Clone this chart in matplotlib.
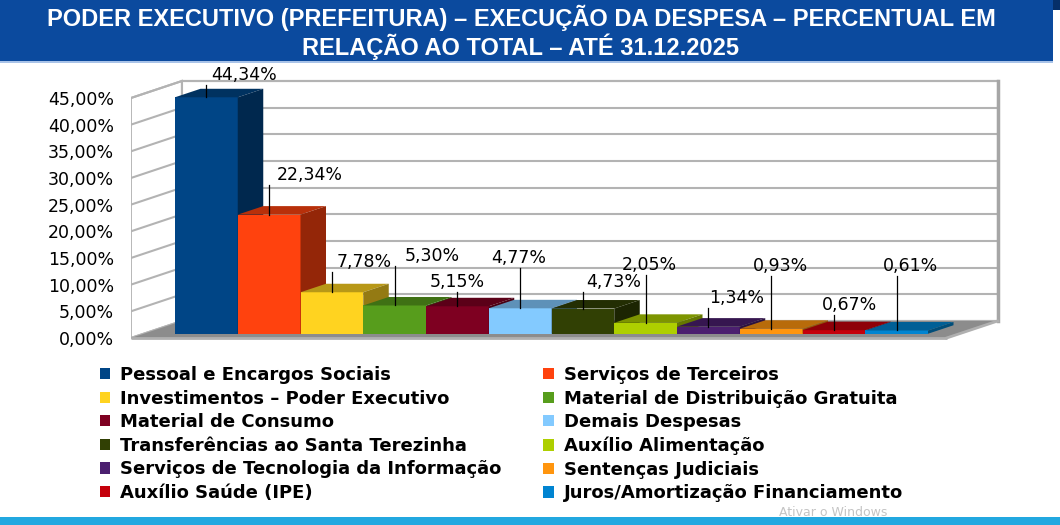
import numpy as np
import matplotlib
matplotlib.use('Agg')
import matplotlib.pyplot as plt
from matplotlib.patches import Polygon, Rectangle, Patch
from matplotlib.colors import to_rgb

# dados
categorias = ['Pessoal e Encargos Sociais', 'Serviços de Terceiros',
              'Investimentos – Poder Executivo', 'Material de Distribuição Gratuita',
              'Material de Consumo', 'Demais Despesas',
              'Transferências ao Santa Terezinha', 'Auxílio Alimentação',
              'Serviços de Tecnologia da Informação', 'Sentenças Judiciais',
              'Auxílio Saúde (IPE)', 'Juros/Amortização Financiamento']
valores = [44.34, 22.34, 7.78, 5.30, 5.15, 4.77, 4.73, 2.05, 1.34, 0.93, 0.67, 0.61]
cores = ['#004586', '#ff420e', '#ffd320', '#579d1c', '#7e0021', '#83caff',
         '#314004', '#aecf00', '#4b1f6f', '#ff950e', '#c5000b', '#0084d1']
yticks = [0, 5, 10, 15, 20, 25, 30, 35, 40, 45]
titulo = ['PODER EXECUTIVO (PREFEITURA) – EXECUÇÃO DA DESPESA – PERCENTUAL EM',
          'RELAÇÃO AO TOTAL – ATÉ 31.12.2025']

# deslocamento dos rotulos (pixels, a partir do topo da barra)
rot_off = [(38, 22), (41, 40), (32, 30), (38, 49), (0, 24), (-1, 50),
           (31, 27), (4, 58), (28, 29), (9, 63), (16, 25), (14, 64)]


def fmt(v):
    return f'{v:.2f}'.replace('.', ',') + '%'


def escurece(c, f):
    r, g, b = to_rgb(c)
    return (r * f, g * f, b * f)


W, H = 1060, 525
fig = plt.figure(figsize=(W / 100, H / 100), dpi=100)

# escala em pixels
PX_X = 62.75
PX_Y = 5.333
X0_PX = 162.25
Y0_PX = 338
DX = 51 / PX_X
DY = 17 / PX_Y
xmin, xmax = -0.5, 13.8
ymin, ymax = -3, 50
ax = fig.add_axes([(X0_PX + xmin * PX_X) / W,
                   (H - (Y0_PX - ymin * PX_Y)) / H,
                   (xmax - xmin) * PX_X / W,
                   (ymax - ymin) * PX_Y / H])
ax.set_xlim(xmin, xmax)
ax.set_ylim(ymin, ymax)
for s in ax.spines.values():
    s.set_visible(False)
ax.set_xticks([])
ax.set_yticks(yticks)
ax.set_yticklabels([fmt(t) for t in yticks], fontsize=12.5)
ax.tick_params(axis='y', length=0, pad=12)

n = len(valores)
xa, xb = -0.5, n + 0.5
ytop = yticks[-1]
cinza = '#b3b3b3'

# parede do fundo
ax.add_patch(Polygon([(xa + DX, DY), (xb + DX, DY), (xb + DX, ytop + DY), (xa + DX, ytop + DY)],
                     closed=True, fc='white', ec=cinza, lw=1.5, zorder=1))
# parede lateral
ax.add_patch(Polygon([(xa, 0), (xa + DX, DY), (xa + DX, ytop + DY), (xa, ytop)],
                     closed=True, fc='white', ec=cinza, lw=1.5, zorder=1))
for t in yticks:
    ax.plot([xa + DX, xb + DX], [t + DY, t + DY], color=cinza, lw=1.5, zorder=2)
    ax.plot([xa, xa + DX], [t, t + DY], color=cinza, lw=1.5, zorder=2)
ax.plot([xb + DX, xb + DX], [DY, ytop + DY], color='#a6a6a6', lw=2.5, zorder=2)

# piso
ax.add_patch(Polygon([(xa, 0), (xb, 0), (xb + DX, DY), (xa + DX, DY)],
                     closed=True, fc='#8c8c8c', ec='none', zorder=2))
ax.plot([xa, xb], [0, 0], color='#b0b0b0', lw=2, zorder=3, solid_capstyle='butt')
ax.plot([xb, xb + DX], [0, DY], color='#b0b0b0', lw=2, zorder=3)

# barras 3d
f0 = 0.25
f1 = 0.75
for i, (v, c) in enumerate(zip(valores, cores)):
    x0 = i + f0 * DX
    x1 = i + 1 + f0 * DX
    y0 = f0 * DY
    y1 = v + f0 * DY
    ddx = (f1 - f0) * DX
    ddy = (f1 - f0) * DY
    ax.add_patch(Polygon([(x0, y0), (x1, y0), (x1, y1), (x0, y1)],
                         closed=True, fc=c, ec='none', zorder=4))
    ax.add_patch(Polygon([(x0, y1), (x1, y1), (x1 + ddx, y1 + ddy), (x0 + ddx, y1 + ddy)],
                         closed=True, fc=escurece(c, 0.72), ec='none', zorder=4))
    ax.add_patch(Polygon([(x1, y0), (x1 + ddx, y0 + ddy), (x1 + ddx, y1 + ddy), (x1, y1)],
                         closed=True, fc=escurece(c, 0.58), ec='none', zorder=4))

    # rotulo
    xm = (x0 + x1) / 2
    ox, oy = rot_off[i]
    ax.plot([xm, xm], [y1, y1 + (oy - 10) / PX_Y], color='black', lw=0.9, zorder=6)
    ax.text(xm + ox / PX_X, y1 + oy / PX_Y, fmt(v), ha='center', va='center',
            fontsize=12.5, color='black', zorder=7)

# faixa do titulo
fig.patches.append(Rectangle((0, 1 - 61 / H), 1053 / W, 61 / H, transform=fig.transFigure,
                             fc='#0b4a9e', ec='none', zorder=0))
fig.patches.append(Rectangle((0, 1 - 62.5 / H), 1053 / W, 1.5 / H, transform=fig.transFigure,
                             fc='#a9c3e8', ec='none', zorder=0))
fig.patches.append(Rectangle((1053 / W, 1 - 10 / H), 7 / W, 10 / H, transform=fig.transFigure,
                             fc='#062f68', ec='none', zorder=0))
fig.patches.append(Rectangle((0, 0), 1, 8 / H, transform=fig.transFigure,
                             fc='#22a8e0', ec='none', zorder=0))
fig.text(521 / W, 1 - 18 / H, titulo[0], ha='center', va='center', color='white',
         fontsize=17, fontweight='bold', family='Liberation Sans')
fig.text(521 / W, 1 - 47 / H, titulo[1], ha='center', va='center', color='white',
         fontsize=17, fontweight='bold', family='Liberation Sans')

# legenda
handles = [Patch(fc=c, ec='none', label=l) for c, l in zip(cores, categorias)]
handles = handles[0::2] + handles[1::2]
fig.legend(handles=handles, loc='upper left', bbox_to_anchor=(100 / W, 1 - 366 / H),
           ncol=2, frameon=False, borderpad=0, borderaxespad=0,
           handlelength=0.58, handleheight=0.58, handletextpad=0.55,
           columnspacing=2.3, labelspacing=0.31,
           prop={'weight': 'bold', 'size': 13, 'family': 'DejaVu Sans'})

fig.text(833 / W, 1 - 512.5 / H, 'Ativar o Windows', ha='center', va='center',
         color='#c4c4c4', fontsize=9)

fig.savefig('out.png', dpi=100)
